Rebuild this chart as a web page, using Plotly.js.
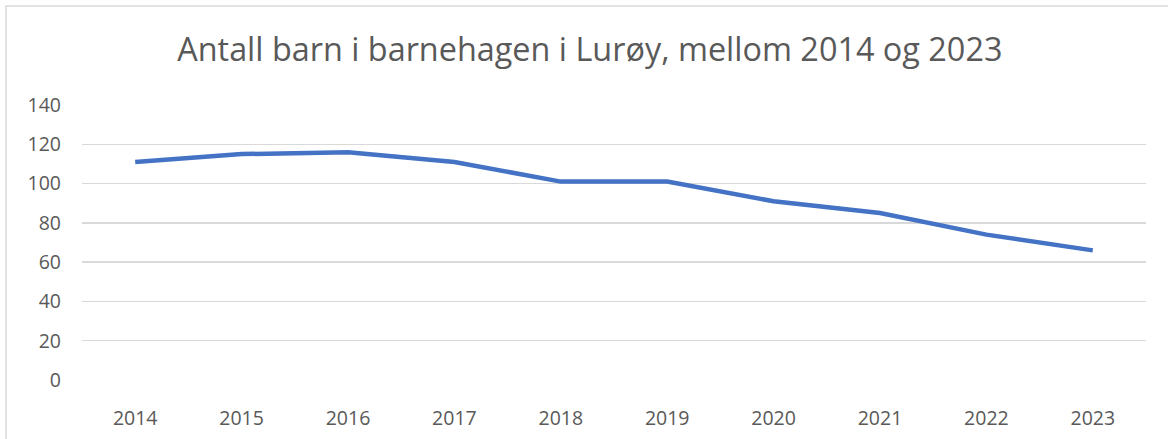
<!DOCTYPE html>
<html>
<head>
<meta charset="utf-8">
<script src="https://cdn.plot.ly/plotly-3.0.1.min.js"></script>
<style>
html,body{margin:0;padding:0;background:#fff;}
#chart{width:1168px;height:439px;}
</style>
</head>
<body>
<div id="chart"></div>
<script>
const years = ["2014","2015","2016","2017","2018","2019","2020","2021","2022","2023"];
const children = [111, 115, 116, 111, 101, 101, 91, 85, 74, 66];
const yTicks = [0, 20, 40, 60, 80, 100, 120, 140];
const chartTitle = "Antall barn i barnehagen i Lurøy, mellom 2014 og 2023";

const trace = {
  x: years,
  y: children,
  type: "scatter",
  mode: "lines",
  line: {color: "#4472C4", width: 4.5},
  hoverinfo: "x+y"
};

const layout = {
  width: 1168,
  height: 439,
  margin: {l: 82, r: 22, t: 105, b: 59},
  paper_bgcolor: "#ffffff",
  plot_bgcolor: "#ffffff",
  showlegend: false,
  font: {family: "Open Sans, sans-serif", color: "#595959", size: 19},
  title: {
    text: chartTitle,
    font: {family: "Open Sans, sans-serif", size: 32.4, color: "#595959"},
    x: 0.505, xref: "container", xanchor: "center",
    y: 0.886, yref: "container", yanchor: "middle"
  },
  xaxis: {
    type: "category",
    range: [-0.5, years.length - 0.5],
    showgrid: false,
    zeroline: false,
    showline: false,
    ticks: "",
    ticklabelstandoff: 24,
    tickfont: {size: 19.5, color: "#595959"}
  },
  yaxis: {
    range: [0, 140],
    tickvals: yTicks,
    showgrid: true,
    gridcolor: "#d9d9d9",
    gridwidth: 1.3,
    zeroline: false,
    showline: false,
    ticks: "",
    ticklabelstandoff: 20,
    tickfont: {size: 19.5, color: "#595959"}
  },
  shapes: [{
    type: "rect", xref: "paper", yref: "paper",
    x0: -76/1064, x1: 1.1, y0: -0.5, y1: 1 + 99/275,
    line: {color: "#d9d9d9", width: 1.5}, fillcolor: "rgba(0,0,0,0)"
  }]
};

Plotly.newPlot("chart", [trace], layout, {displayModeBar: false, staticPlot: true});
</script>
</body>
</html>
